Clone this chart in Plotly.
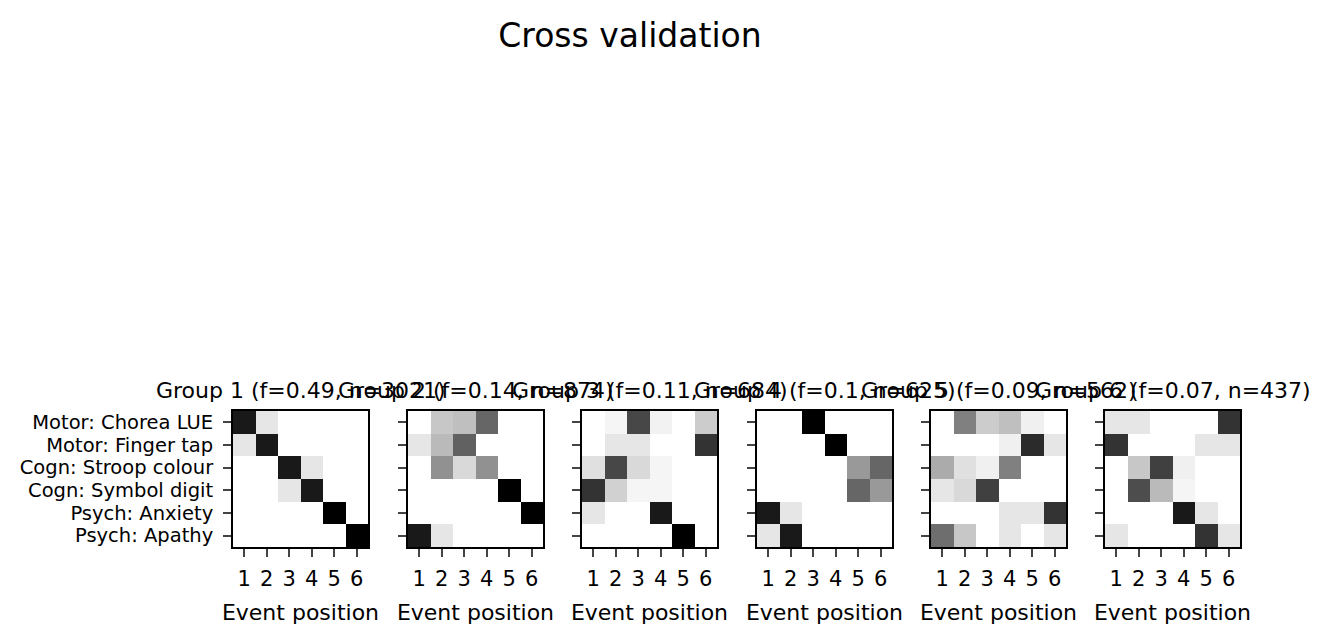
import numpy as np
import plotly.graph_objects as go
from plotly.subplots import make_subplots

# Biomarkers (rows) and event positions (columns)
biomarkers = ["Motor: Chorea LUE", "Motor: Finger tap", "Cogn: Stroop colour",
              "Cogn: Symbol digit", "Psych: Anxiety", "Psych: Apathy"]
positions = [1, 2, 3, 4, 5, 6]
group_titles = ["Group 1 (f=0.49, n=3021)", "Group 2 (f=0.14, n=874)",
                "Group 3 (f=0.11, n=684)", "Group 4 (f=0.1, n=625)",
                "Group 5 (f=0.09, n=562)", "Group 6 (f=0.07, n=437)"]

# positional variance per group
group1 = [[0.9, 0.1, 0, 0, 0, 0],
          [0.1, 0.9, 0, 0, 0, 0],
          [0, 0, 0.9, 0.1, 0, 0],
          [0, 0, 0.1, 0.9, 0, 0],
          [0, 0, 0, 0, 1, 0],
          [0, 0, 0, 0, 0, 1]]
group2 = [[0, 0.22, 0.25, 0.6, 0, 0],
          [0.1, 0.27, 0.62, 0, 0, 0],
          [0, 0.43, 0.15, 0.43, 0, 0],
          [0, 0, 0, 0, 1, 0],
          [0, 0, 0, 0, 0, 1],
          [0.9, 0.1, 0, 0, 0, 0]]
group3 = [[0, 0.04, 0.72, 0.05, 0, 0.2],
          [0, 0.1, 0.1, 0, 0, 0.8],
          [0.12, 0.72, 0.15, 0.04, 0, 0],
          [0.8, 0.18, 0.04, 0.04, 0, 0],
          [0.1, 0, 0, 0.9, 0, 0],
          [0, 0, 0, 0, 1, 0]]
group4 = [[0, 0, 1, 0, 0, 0],
          [0, 0, 0, 1, 0, 0],
          [0, 0, 0, 0, 0.4, 0.6],
          [0, 0, 0, 0, 0.6, 0.4],
          [0.9, 0.1, 0, 0, 0, 0],
          [0.1, 0.9, 0, 0, 0, 0]]
group5 = [[0, 0.5, 0.2, 0.25, 0.06, 0],
          [0, 0, 0, 0.06, 0.83, 0.1],
          [0.33, 0.12, 0.06, 0.5, 0, 0],
          [0.1, 0.15, 0.75, 0, 0, 0],
          [0, 0, 0, 0.1, 0.1, 0.8],
          [0.57, 0.22, 0, 0.1, 0, 0.1]]
group6 = [[0.1, 0.1, 0, 0, 0, 0.8],
          [0.8, 0, 0, 0, 0.1, 0.1],
          [0, 0.22, 0.75, 0.06, 0, 0],
          [0, 0.7, 0.27, 0.04, 0, 0],
          [0, 0, 0, 0.9, 0.1, 0],
          [0.1, 0, 0, 0, 0.8, 0.1]]
groups = [group1, group2, group3, group4, group5, group6]

W, H = 1331, 644
panel_left = [233, 408, 582, 757, 931, 1105]
panel_w = 135
panel_top, panel_bot = 411, 547

fig = make_subplots(rows=1, cols=6)
font = "DejaVu Sans"

for i, g in enumerate(groups):
    fig.add_trace(go.Heatmap(z=np.array(g), x=positions, y=list(range(6)),
                             zmin=0, zmax=1,
                             colorscale=[[0, "white"], [1, "black"]],
                             showscale=False, xgap=0, ygap=0),
                  row=1, col=i + 1)
    ax = "" if i == 0 else str(i + 1)
    x0 = panel_left[i] / W
    x1 = (panel_left[i] + panel_w) / W
    fig.layout["xaxis" + ax].update(
        domain=[x0, x1], tickvals=positions, ticks="outside", ticklen=8,
        tickwidth=1.6, ticklabelstandoff=4,
        showline=True, mirror=True, linecolor="black", linewidth=1.8,
        showgrid=False, zeroline=False, range=[0.5, 6.5],
        title=dict(text="Event position", standoff=15,
                   font=dict(size=22, color="black")),
        tickfont=dict(size=21, color="black"))
    fig.layout["yaxis" + ax].update(
        domain=[1 - panel_bot / H, 1 - panel_top / H],
        tickvals=list(range(6)),
        ticktext=biomarkers if i == 0 else [""] * 6,
        ticks="outside", ticklen=8, tickwidth=1.6, ticklabelstandoff=6,
        range=[5.5, -0.5],
        showline=True, mirror=True, linecolor="black", linewidth=1.8,
        showgrid=False, zeroline=False,
        tickfont=dict(size=19.5, color="black"))
    fig.add_annotation(text=group_titles[i], x=(x0 + x1) / 2,
                       y=1 - panel_top / H, xref="paper", yref="paper",
                       xanchor="center", yanchor="bottom", yshift=6,
                       showarrow=False, font=dict(size=22, color="black"))

fig.update_layout(
    width=W, height=H, margin=dict(l=0, r=0, t=0, b=0),
    paper_bgcolor="white", plot_bgcolor="white",
    font=dict(family=font, color="black"),
    title=dict(text="Cross validation", x=630 / W, y=1 - 35 / H,
               xanchor="center", yanchor="middle",
               font=dict(size=33, color="black")),
)

fig.write_html("out.html", config={"displayModeBar": False},
               post_script="document.body.style.margin='0px';")
